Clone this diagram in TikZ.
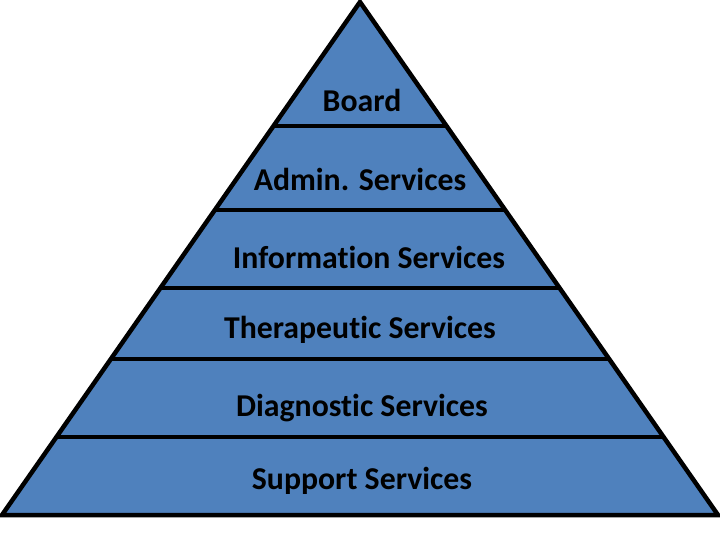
\documentclass[tikz,border=0pt]{standalone}
\usepackage{fontspec}
\setmainfont[Ligatures=NoCommon]{Carlito}
\usetikzlibrary{calc}
\definecolor{layerblue}{RGB}{79,129,189}
\tikzset{
  edge/.style={line width=3.2pt, line join=miter},
  layerlabel/.style={anchor=base, font=\fontsize{22.6}{26}\selectfont\bfseries, inner sep=0pt}
}
\begin{document}
\begin{tikzpicture}[x=0.025cm, y=-0.025cm]
\useasboundingbox (0,0) rectangle (720,540);

\coordinate (apex) at (360,2);
\coordinate (bl) at (2,515);
\coordinate (br) at (718,515);

% pyramid body
\fill[layerblue] (apex) -- (bl) -- (br) -- cycle;

% layer separators
\foreach \y/\name in {126/a, 210/b, 288/c, 359/d, 437/e}{
  \pgfmathsetmacro{\t}{(\y-2)/513}
  \draw[edge] ($(apex)!\t!(bl)$) -- ($(apex)!\t!(br)$);
}
\draw[edge] (apex) -- (bl) -- (br) -- cycle;

% labels
\node[layerlabel] (board) at (362,111) {Board};
\node[layerlabel] (admin) at (360,190) {Admin. Services};
\node[layerlabel] (info) at (369,268) {Information Services};
\node[layerlabel] (thera) at (360,338) {Therapeutic Services};
\node[layerlabel] (diag) at (362,416) {Diagnostic Services};
\node[layerlabel] (supp) at (362,489) {Support Services};
\end{tikzpicture}
\end{document}
